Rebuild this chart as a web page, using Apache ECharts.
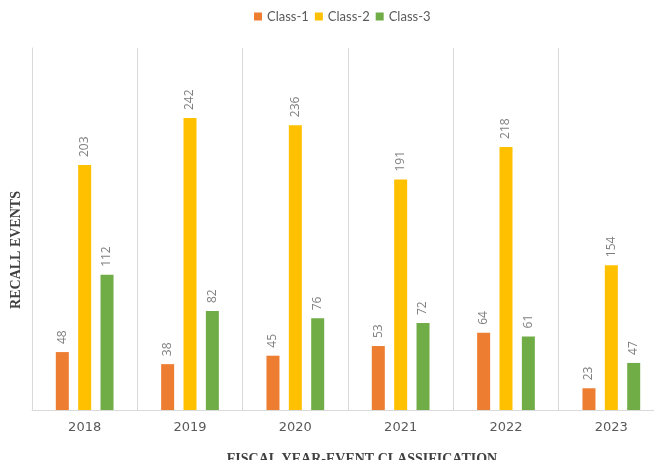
<!DOCTYPE html>
<html><head><meta charset="utf-8">
<script src="https://cdn.jsdelivr.net/npm/echarts@6/dist/echarts.min.js"></script>
<style>html,body{margin:0;padding:0;background:#fff;overflow:hidden}#c{width:654px;height:460px}</style>
</head><body><div id="c"></div>
<script>
const categories = ['2018','2019','2020','2021','2022','2023'];
// values printed on the bars
const class1 = [48, 38, 45, 53, 64, 23];
const class2 = [203, 242, 236, 191, 218, 154];
const class3 = [112, 82, 76, 72, 61, 47];
// bar heights as drawn in the picture (2023 bars are drawn shorter than their labels)
const class1Height = [48, 38, 45, 53, 64, 18];
const class2Height = [203, 242, 236, 191, 218, 120];
const class3Height = [112, 82, 76, 72, 61, 39];
const seriesNames = ['Class-1','Class-2','Class-3'];
const colors = ['#ED7D31','#FFC000','#70AD47'];

const chart = echarts.init(document.getElementById('c'));
function mk(name, heights, values, color){
  return {name, type:'bar', data:heights, barWidth:13, barGap:'72%', itemStyle:{color},
    label:{show:true, position:'top', rotate:90, align:'left', verticalAlign:'middle', distance:8,
      color:'#7f7f7f', fontSize:12, fontFamily:'Open Sans',
      formatter:(p)=>String(values[p.dataIndex])}};
}
chart.setOption({
  animation:false,
  legend:{top:5, left:249, itemWidth:8, itemHeight:8, itemGap:6, icon:'rect',
    textStyle:{color:'#595959', fontSize:13, fontFamily:'Lato'}, data:seriesNames},
  grid:{left:32, width:632, top:48, bottom:50, outerBoundsMode:'none', containLabel:false},
  xAxis:{type:'category', data:categories,
    axisLine:{lineStyle:{color:'#d9d9d9'}}, axisTick:{show:false},
    splitLine:{show:true, lineStyle:{color:'#d9d9d9'}},
    axisLabel:{color:'#595959', fontSize:13, margin:11, fontFamily:'DejaVu Sans'}},
  yAxis:{type:'value', min:0, max:300, axisLabel:{show:false}, splitLine:{show:false},
    axisLine:{show:true, lineStyle:{color:'#d9d9d9'}}, axisTick:{show:false}},
  graphic:[
    {type:'text', x:16, y:250, rotation:Math.PI/2, style:{text:'RECALL EVENTS', fill:'#404040',
      font:'bold 14px "Liberation Serif"', textAlign:'center', textVerticalAlign:'middle'}},
    {type:'text', x:362, y:459, style:{text:'FISCAL YEAR-EVENT CLASSIFICATION', fill:'#404040',
      font:'bold 14px "Liberation Serif"', textAlign:'center', textVerticalAlign:'middle'}}
  ],
  series:[mk(seriesNames[0],class1Height,class1,colors[0]), mk(seriesNames[1],class2Height,class2,colors[1]), mk(seriesNames[2],class3Height,class3,colors[2])]
});
</script></body></html>
